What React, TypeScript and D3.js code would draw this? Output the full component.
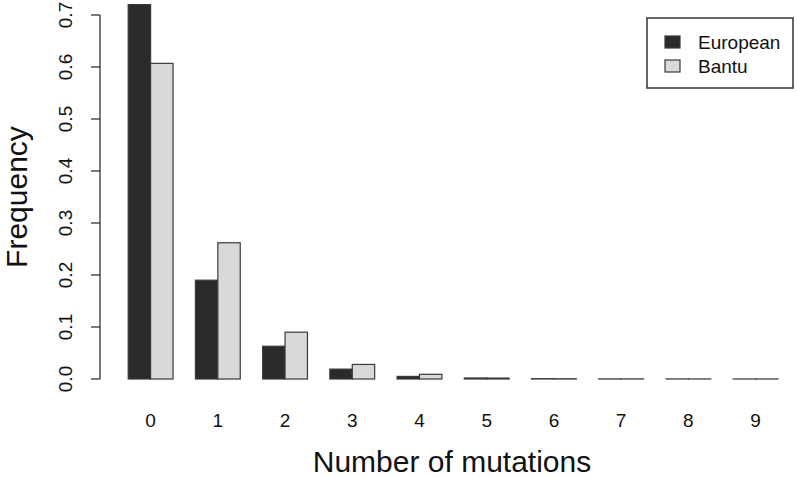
import { useEffect, useRef } from "react"
import * as d3 from "d3"

const categories = ["0", "1", "2", "3", "4", "5", "6", "7", "8", "9"]
const european = [0.72, 0.19, 0.063, 0.019, 0.005, 0.002, 0.0006, 0.0002, 0.0001, 0.00005]
const bantu = [0.607, 0.262, 0.09, 0.028, 0.009, 0.0018, 0.0005, 0.0002, 0.0001, 0.00005]
const seriesNames = ["European", "Bantu"]
const seriesColors = ["#2a2a2a", "#d9d9d9"]
const yTicks = [0, 0.1, 0.2, 0.3, 0.4, 0.5, 0.6, 0.7]

const W = 797
const H = 478
const FONT = "'Liberation Sans', Arial, Helvetica, sans-serif"

export default function App() {
    const ref = useRef<SVGSVGElement | null>(null)

    useEffect(() => {
        const host = ref.current
        if (!host) return
        const svg = d3.select(host)
        svg.selectAll("*").remove()

        // R barplot units: each group = 2 bars + 1 space, first bar starts at unit 1
        const x = d3.scaleLinear().domain([1, 30]).range([128.2, 778])
        const y = d3.scaleLinear().domain([0, 0.7]).range([379, 15])

        const rows = categories.map((c, i) => ({ c, i, vals: [european[i], bantu[i]] }))

        const bars = svg.append("g")
        rows.forEach(r => {
            r.vals.forEach((v, j) => {
                const x0 = x(1 + 3 * r.i + j)
                const x1 = x(2 + 3 * r.i + j)
                bars.append("rect")
                    .attr("x", x0)
                    .attr("y", y(v))
                    .attr("width", x1 - x0)
                    .attr("height", Math.max(0, y(0) - y(v)))
                    .attr("fill", seriesColors[j])
                    .attr("stroke", "#3a3a3a")
                    .attr("stroke-width", 1.2)
            })
        })

        // x tick labels (no axis line, as in R beside barplot)
        svg.append("g")
            .selectAll("text")
            .data(rows)
            .join("text")
            .attr("x", d => x(2 + 3 * d.i))
            .attr("y", 427)
            .attr("text-anchor", "middle")
            .attr("font-family", FONT)
            .attr("font-size", 19)
            .attr("fill", "#111")
            .text(d => d.c)

        // y axis
        const ax = svg.append("g").attr("transform", "translate(100,0)")
        ax.append("line")
            .attr("x1", 0).attr("x2", 0)
            .attr("y1", y(0)).attr("y2", y(0.7))
            .attr("stroke", "#222").attr("stroke-width", 1.2)
        ax.selectAll("line.tick")
            .data(yTicks)
            .join("line")
            .attr("class", "tick")
            .attr("x1", -9).attr("x2", 0)
            .attr("y1", d => y(d)).attr("y2", d => y(d))
            .attr("stroke", "#222").attr("stroke-width", 1.2)
        ax.selectAll("text")
            .data(yTicks)
            .join("text")
            .attr("transform", d => `translate(-28,${y(d)}) rotate(-90)`)
            .attr("text-anchor", "middle")
            .attr("font-family", FONT)
            .attr("font-size", 19)
            .attr("fill", "#111")
            .text(d => d3.format(".1f")(d))

        // axis titles
        svg.append("text")
            .attr("transform", `translate(27,197) rotate(-90)`)
            .attr("text-anchor", "middle")
            .attr("font-family", FONT)
            .attr("font-size", 30)
            .attr("fill", "#111")
            .text("Frequency")

        svg.append("text")
            .attr("x", 452)
            .attr("y", 472)
            .attr("text-anchor", "middle")
            .attr("font-family", FONT)
            .attr("font-size", 30)
            .attr("fill", "#111")
            .text("Number of mutations")

        // legend
        const lg = svg.append("g")
        lg.append("rect")
            .attr("x", 647).attr("y", 18)
            .attr("width", 146).attr("height", 70)
            .attr("fill", "white")
            .attr("stroke", "#333").attr("stroke-width", 1.5)
        seriesNames.forEach((name, j) => {
            const yy = 36 + j * 24
            lg.append("rect")
                .attr("x", 665).attr("y", yy)
                .attr("width", 15).attr("height", 12)
                .attr("fill", seriesColors[j])
                .attr("stroke", "#3a3a3a").attr("stroke-width", 1.2)
            lg.append("text")
                .attr("x", 698).attr("y", yy + 13)
                .attr("font-family", FONT)
                .attr("font-size", 19)
                .attr("fill", "#111")
                .text(name)
        })
    }, [])

    return (
        <svg
            ref={ref}
            width={W}
            height={H}
            style={{ position: "absolute", left: 0, top: 0, background: "white" }}
        />
    )
}
